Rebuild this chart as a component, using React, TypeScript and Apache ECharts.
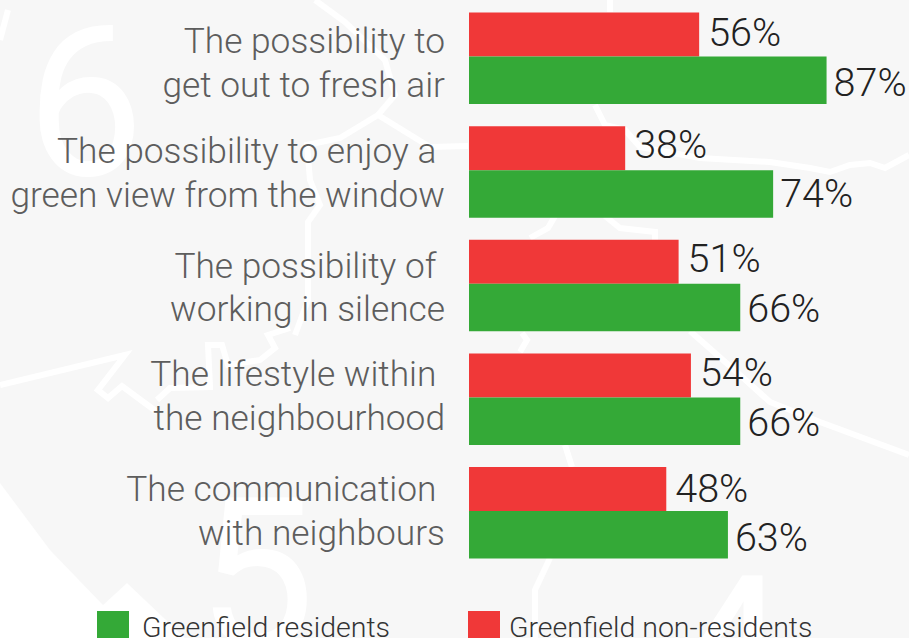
import React, { useEffect, useRef } from "react";
import * as echarts from "echarts";

const categories = [
  "The possibility to\nget out to fresh air",
  "The possibility to enjoy a\u00a0\ngreen view from the window",
  "The possibility of\u00a0\nworking in silence",
  "The lifestyle within\u00a0\nthe neighbourhood",
  "The communication\u00a0\nwith neighbours",
];
const nonResidents = [56, 38, 51, 54, 48];
const residents = [87, 74, 66, 66, 63];
const nonResidentsName = "Greenfield non-residents";
const residentsName = "Greenfield residents";

const FONT = "Roboto";
const labelShift = [4.5, 1, 2, -3, -2];
const valueShift = [0, -2, -1, -1, 1];
const roads: number[][][] = [
  [[315, 0], [345, 22], [385, 60], [395, 95], [378, 115], [340, 138], [307, 145], [310, 180], [320, 205], [308, 222], [308, 300], [295, 335]],
  [[378, 115], [430, 147], [468, 146]],
  [[610, 0], [610, 12]],
  [[595, 105], [605, 125], [625, 130], [640, 147], [700, 158], [770, 162], [810, 168], [830, 172], [850, 165], [870, 163], [885, 168], [909, 155]],
  [[605, 216], [620, 228], [655, 232], [655, 240]],
  [[555, 216], [548, 228], [530, 238]],
  [[690, 331], [740, 375], [770, 402], [820, 422], [909, 455]],
  [[522, 333], [527, 340], [520, 352]],
  [[565, 445], [572, 467]],
  [[550, 558], [535, 590], [535, 638]],
  [[8, 10], [0, 40]],
  [[0, 385], [125, 355], [98, 390], [108, 398], [122, 386], [157, 412]],
  [[157, 400], [170, 388], [210, 387], [208, 345], [222, 345], [228, 365], [260, 360], [275, 348], [268, 335], [290, 328]],
];

export default function App() {
  const ref = useRef<HTMLDivElement>(null);
  useEffect(() => {
    document.body.style.margin = "0";
    const chart = echarts.init(ref.current!, null, { renderer: "svg" });
    const legendBase = {
      top: 611,
      padding: 0,
      itemWidth: 32,
      itemHeight: 32,
      icon: "rect",
      selectedMode: false,
    };
    const legendText = { color: "#333333", fontFamily: FONT, fontWeight: 300, fontSize: 28.5 };
    const valueLabel = { show: true, position: "right", formatter: "{c}%", color: "#222222", fontFamily: FONT, fontWeight: 300, fontSize: 39.5 };
    const digit = `400 210px ${FONT}`;
    const catText = { color: "#5d5d5d", fontFamily: FONT, fontWeight: 300, fontSize: 35.3, lineHeight: 43.5, align: "right" };
    const rich: Record<string, object> = {};
    labelShift.forEach((s, i) => {
      rich[`r${i}`] = { ...catText, padding: [Math.max(s, 0) * 2, 0, Math.max(-s, 0) * 2, 0] };
    });
    chart.setOption({
      animation: false,
      backgroundColor: "#f7f7f7",
      graphic: [
        { type: "polygon", z: -10, silent: true, shape: { points: [[0, 483], [50, 550], [103, 605], [127, 583], [185, 638], [0, 638]] }, style: { fill: "#ffffff" } },
        ...roads.map((points) => ({ type: "polyline", z: -9, silent: true, shape: { points }, style: { stroke: "#ffffff", lineWidth: 6, fill: "none" } })),
        { type: "text", z: -9, silent: true, x: 26, y: -2, style: { text: "6", fill: "#ffffff", font: digit } },
        { type: "text", z: -9, silent: true, x: 197, y: 470, style: { text: "5", fill: "#ffffff", font: digit } },
        { type: "text", z: -9, silent: true, x: 670, y: 548, style: { text: "4", fill: "#ffffff", font: digit } },
      ],
      grid: { left: 469, top: 1.55, width: 411, height: 568, containLabel: false },
      xAxis: { type: "value", min: 0, max: 100, show: false },
      yAxis: {
        type: "category",
        inverse: true,
        data: categories,
        axisLine: { show: false },
        axisTick: { show: false },
        splitLine: { show: false },
        axisLabel: {
          ...catText,
          margin: 24,
          rich,
          formatter: (value: string, i: number) => {
            const [first, second] = value.split("\n");
            return `{r${i}|${first}}\n{r${i}|${second}}`;
          },
        },
      },
      legend: [
        { ...legendBase, left: 97, data: [residentsName], textStyle: { ...legendText, padding: [0, 0, 0, 8] } },
        { ...legendBase, left: 468, data: [nonResidentsName], textStyle: { ...legendText, padding: [0, 0, 0, 4] } },
      ],
      series: [
        {
          type: "bar",
          name: nonResidentsName,
          data: nonResidents.map((value, i) => ({ value, label: { offset: [0, valueShift[i] - 2] } })),
          barWidth: 44,
          barGap: 0,
          itemStyle: { color: "#f03838" },
          label: { ...valueLabel, distance: 9 },
        },
        {
          type: "bar",
          name: residentsName,
          data: residents.map((value, i) => ({ value, label: { offset: [0, valueShift[i] + 2] } })),
          barWidth: 47.5,
          barGap: 0,
          itemStyle: { color: "#34a937" },
          label: { ...valueLabel, distance: 7 },
        },
      ],
    });
    return () => chart.dispose();
  }, []);
  return <div ref={ref} style={{ position: "fixed", left: 0, top: 0, width: 909, height: 638 }} />;
}
